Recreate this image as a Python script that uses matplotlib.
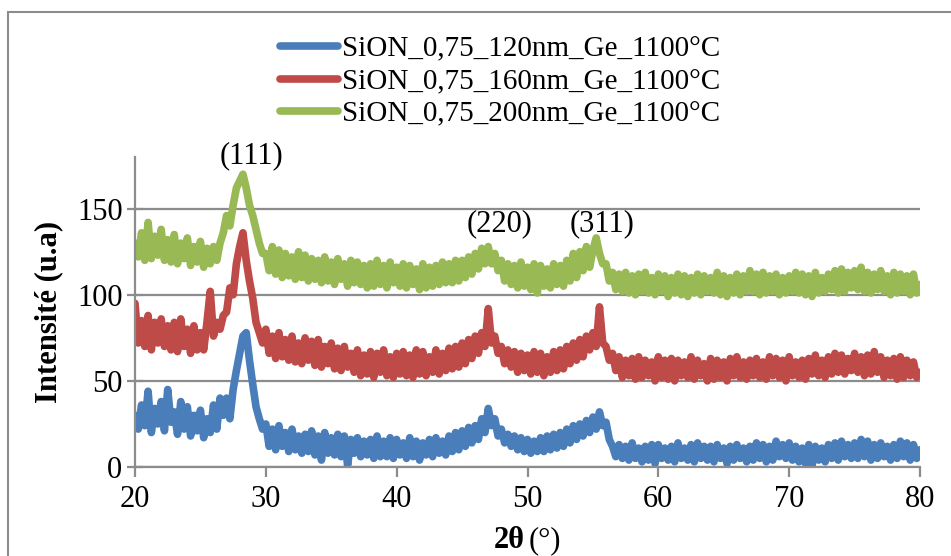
import numpy as np
import matplotlib
matplotlib.use("Agg")
import matplotlib.pyplot as plt
from matplotlib.patches import Rectangle

# 2-theta sampling (0.25 deg steps from 20 to 80)
two_theta = np.arange(20.0, 80.001, 0.25)

labels = ["SiON_0,75_120nm_Ge_1100°C",
          "SiON_0,75_160nm_Ge_1100°C",
          "SiON_0,75_200nm_Ge_1100°C"]

blue_120 = [
    30, 22, 36, 24,  44, 20, 34, 25,  38, 21, 45, 26,  32, 19, 38, 22,
    35, 18, 30, 21,  33, 17, 28, 20,  36, 22, 40, 30,  40, 28, 45, 56,
    66, 76, 78, 62,  48, 35, 28, 22,  25, 12, 22, 10,  24, 12, 20, 9,
    22, 10, 18, 8,   19, 9, 21, 7,    18, 4, 20, 8,    17, 7, 19, 6,
    18, 1, 16, 8,    17, 6, 15, 7,    16, 5, 18, 6,    15, 6, 17, 5,
    16, 7, 14, 5,    17, 6, 15, 4,    14, 7, 16, 6,    17, 8, 15, 7,
    18, 9, 20, 10,   21, 12, 23, 14,  24, 16, 28, 20,  34, 24, 28, 18,
    22, 14, 19, 12,  18, 10, 17, 9,   16, 8, 15, 9,    17, 9, 18, 10,
    19, 11, 20, 12,  22, 14, 24, 16,  25, 18, 27, 20,  29, 22, 32, 24,
    26, 16, 12, 6,   13, 5, 12, 4,    14, 5, 11, 3,    12, 4, 13, 2,
    13, 5, 11, 4,    12, 3, 14, 5,    11, 4, 13, 3,    14, 5, 12, 4,
    12, 3, 13, 5,    11, 2, 12, 4,    13, 5, 11, 3,    12, 4, 14, 5,
    13, 3, 12, 4,    15, 6, 13, 5,    14, 4, 12, 3,    11, 2, 13, 1,
    12, 4, 11, 3,    13, 5, 14, 4,    15, 6, 13, 5,    14, 5, 16, 6,
    15, 4, 13, 5,    14, 6, 12, 4,    13, 5, 15, 6,    14, 4, 13, 5,
    10,
]

red_160 = [
    95, 72, 85, 70,  88, 68, 84, 72,  86, 70, 82, 68,  84, 67, 86, 70,
    80, 66, 82, 68,  78, 68, 84, 102, 76, 84, 80, 88,  90, 104, 100, 118,
    128, 136, 120, 108, 98, 84, 78, 72, 80, 66, 76, 63, 78, 64, 74, 62,
    76, 61, 72, 60,  75, 62, 73, 59,  74, 58, 70, 60,  72, 57, 69, 56,
    70, 58, 66, 55,  68, 53, 65, 54,  67, 52, 66, 55,  68, 53, 64, 52,
    66, 54, 67, 53,  65, 52, 68, 54,  67, 53, 64, 55,  68, 54, 66, 56,
    69, 57, 70, 58,  72, 60, 74, 63,  76, 66, 78, 70,  92, 72, 76, 66,
    70, 60, 68, 58,  67, 55, 66, 56,  65, 54, 67, 55,  66, 53, 64, 55,
    67, 56, 68, 57,  70, 60, 72, 62,  74, 64, 76, 68,  78, 70, 93, 72,
    70, 62, 66, 56,  64, 52, 62, 53,  63, 51, 64, 52,  62, 53, 61, 50,
    64, 52, 62, 51,  63, 50, 62, 53,  61, 52, 64, 51,  62, 53, 60, 50,
    63, 51, 62, 52,  61, 50, 63, 53,  64, 52, 61, 51,  62, 53, 63, 52,
    61, 51, 64, 53,  63, 52, 62, 50,  64, 53, 61, 52,  62, 51, 63, 54,
    65, 53, 62, 52,  64, 54, 66, 55,  65, 54, 63, 56,  66, 55, 64, 53,
    65, 54, 67, 55,  64, 52, 62, 53,  63, 51, 64, 52,  62, 53, 61, 52,
    55,
]

green_200 = [
    130, 122, 136, 120, 142, 121, 134, 123, 138, 120, 132, 119, 135, 118, 130, 121,
    133, 117, 128, 119, 131, 116, 127, 118, 128, 120, 130, 136, 146, 140, 152, 162,
    166, 170, 162, 152, 146, 138, 130, 124, 124, 114, 128, 112, 126, 110, 124, 111,
    122, 109, 125, 110, 123, 108, 121, 109, 120, 107, 122, 108, 119, 106, 121, 109,
    118, 105, 120, 107, 119, 106, 117, 104, 118, 105, 120, 106, 117, 104, 119, 107,
    116, 105, 118, 104, 117, 106, 115, 103, 118, 104, 116, 105, 117, 106, 119, 107,
    118, 107, 120, 108, 120, 110, 122, 112, 124, 115, 127, 118, 128, 118, 124, 114,
    120, 108, 118, 106, 117, 104, 119, 105, 116, 103, 118, 101, 117, 105, 115, 104,
    118, 106, 117, 105, 120, 108, 124, 110, 125, 114, 128, 116, 126, 133, 124, 118,
    118, 108, 113, 103, 112, 102, 113, 101, 111, 100, 112, 102, 113, 101, 110, 100,
    112, 102, 111, 99, 110, 101, 112, 100, 111, 99, 110, 101, 112, 100, 111, 102,
    110, 101, 113, 100, 111, 99, 110, 101, 112, 100, 111, 102, 114, 102, 112, 100,
    113, 101, 111, 102, 112, 100, 110, 101, 111, 102, 113, 101, 112, 100, 111, 99,
    113, 101, 110, 102, 112, 103, 114, 101, 115, 102, 113, 104, 114, 103, 116, 102,
    113, 101, 112, 103, 114, 102, 111, 100, 113, 101, 112, 102, 111, 100, 112, 101,
    106,
]

peak_labels = ["(111)", "(220)", "(311)"]
peak_x = [28.9, 47.9, 55.7]
peak_y = [181, 141, 141]

colors = ["#4A7EBB", "#BE4B48", "#98B954"]
series = [blue_120, red_160, green_200]
grey = "#8C8C8C"

plt.rcParams["font.family"] = ["Liberation Serif", "DejaVu Serif"]

fig = plt.figure(figsize=(9.51, 5.56), dpi=100)
ax = fig.add_axes([135/951, 1-467/556, (920-135)/951, (467-157)/556])

for ys, c, lab in zip(series, colors, labels):
    ax.plot(two_theta, ys, color=c, lw=5.5, label=lab, solid_joinstyle="round",
            solid_capstyle="round")

ax.set_xlim(20, 80)
ax.set_ylim(0, 180)
ax.set_xticks(np.arange(20, 81, 10))
ax.set_yticks([0, 50, 100, 150])
ax.yaxis.grid(True, color=grey, lw=1.6)
ax.set_axisbelow(True)
for s in ["top", "right"]:
    ax.spines[s].set_visible(False)
for s in ["left", "bottom"]:
    ax.spines[s].set_color(grey)
    ax.spines[s].set_linewidth(1.6)
ax.tick_params(axis="y", direction="inout", length=12, width=1.6, color=grey,
               labelsize=22, pad=3)
ax.tick_params(axis="x", direction="out", length=7, width=1.6, color=grey,
               labelsize=22, pad=6)

for t, x, y in zip(peak_labels, peak_x, peak_y):
    ax.text(x, y, t, fontsize=22, ha="center", va="center", clip_on=False)

ax.set_ylabel("Intensité (u.a)", fontsize=22, fontweight="bold", labelpad=10)

fig.text(525/951, 1-541/556, "2θ", fontsize=22, fontweight="bold",
         ha="right", va="center")
fig.text(529/951, 1-541/556, "(°)", fontsize=22, ha="left", va="center")

leg = fig.legend(loc="upper center", bbox_to_anchor=(500/951, 1-10/556),
                 frameon=False, fontsize=21, handlelength=2.0,
                 handletextpad=0.15, labelspacing=0.2)

fig.add_artist(Rectangle((8/951, -0.05), 1.0, 1-12/556+0.05,
                         transform=fig.transFigure, fill=False,
                         edgecolor=grey, lw=1.5))

fig.savefig("out.png", dpi=100)
